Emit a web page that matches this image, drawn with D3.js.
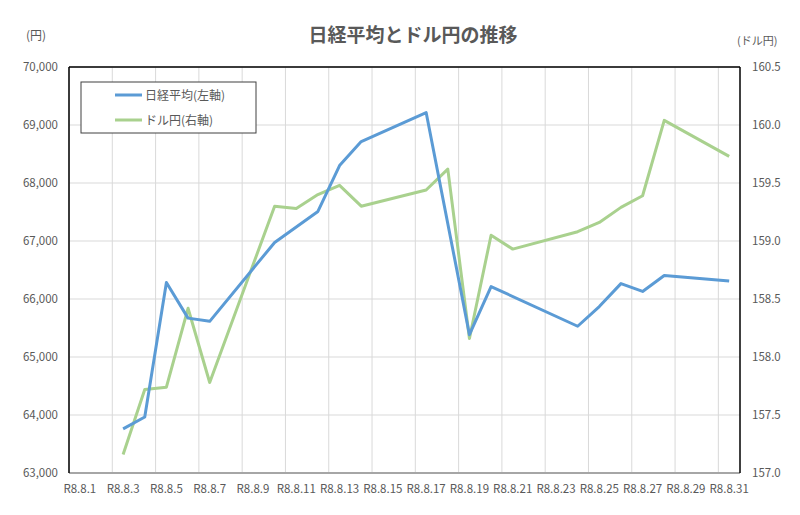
<!DOCTYPE html>
<html><head><meta charset="utf-8">
<script src="https://cdn.jsdelivr.net/npm/d3@7"></script>
<style>
body{margin:0;background:#fff;}
text{font-family:"Noto Sans CJK JP","Noto Sans",sans-serif;}
</style></head>
<body><svg id="c" width="800" height="515"></svg>
<script>
const nikkeiDays = [3,4,5,6,7,10,12,13,14,17,19,20,24,25,26,27,28,31];
const nikkeiValues = [63760,63965,66285,65670,65615,66975,67510,68300,68715,69215,65385,66215,65530,65870,66265,66130,66405,66310];
const usdjpyDays = [3,4,5,6,7,10,11,12,13,14,17,18,19,20,21,24,25,26,27,28,31];
const usdjpyValues = [157.16,157.72,157.74,158.42,157.78,159.30,159.28,159.40,159.48,159.30,159.44,159.62,158.16,159.05,158.93,159.08,159.16,159.29,159.39,160.04,159.73];
const xTickDays = [1,3,5,7,9,11,13,15,17,19,21,23,25,27,29,31];
const leftTicks = [63000,64000,65000,66000,67000,68000,69000,70000];
const rightTicks = [157.0,157.5,158.0,158.5,159.0,159.5,160.0,160.5];
const seriesNames = ["日経平均(左軸)","ドル円(右軸)"];
const colors = ["#5b9bd5","#a9d18e"];

const svg = d3.select("#c");
const L=69,R=740,T=67,B=473;
const day = d => new Date(2026,7,d);
const mid = d => new Date(2026,7,d,12);
const x = d3.scaleTime().domain([day(1),day(32)]).range([L,R]);
const yL = d3.scaleLinear().domain([63000,70000]).range([B,T]);
const yR = d3.scaleLinear().domain([157,160.5]).range([B,T]);
const grey="#595959";

// gridlines
const g = svg.append("g");
g.selectAll("line.h").data(leftTicks).join("line")
 .attr("x1",L).attr("x2",R).attr("y1",d=>yL(d)).attr("y2",d=>yL(d))
 .attr("stroke","#d9d9d9").attr("stroke-width",1);
g.selectAll("line.v").data(xTickDays).join("line")
 .attr("x1",d=>x(day(d))).attr("x2",d=>x(day(d))).attr("y1",T).attr("y2",B)
 .attr("stroke","#d9d9d9").attr("stroke-width",1);

// axes text
const fmt = d3.format(",");
svg.append("g").selectAll("text").data(leftTicks).join("text")
 .attr("x",58).attr("y",d=>yL(d)+4).attr("text-anchor","end")
 .attr("font-size",11.5).attr("fill",grey).text(d=>fmt(d));
svg.append("g").selectAll("text").data(rightTicks).join("text")
 .attr("x",752).attr("y",d=>yR(d)+4).attr("text-anchor","start")
 .attr("font-size",11.5).attr("fill",grey).text(d=>d.toFixed(1));
svg.append("g").selectAll("text").data(xTickDays).join("text")
 .attr("x",d=>x(mid(d))).attr("y",493).attr("text-anchor","middle")
 .attr("font-size",11.5).attr("fill",grey).text(d=>"R8.8."+d);

// lines
const lineL = d3.line().x((d,i)=>x(mid(nikkeiDays[i]))).y(d=>yL(d));
const lineR = d3.line().x((d,i)=>x(mid(usdjpyDays[i]))).y(d=>yR(d));
svg.append("path").datum(usdjpyValues).attr("d",lineR).attr("fill","none")
 .attr("stroke",colors[1]).attr("stroke-width",3).attr("stroke-linejoin","round");
svg.append("path").datum(nikkeiValues).attr("d",lineL).attr("fill","none")
 .attr("stroke",colors[0]).attr("stroke-width",3).attr("stroke-linejoin","round");

// borders
svg.append("line").attr("x1",L).attr("x2",R).attr("y1",B).attr("y2",B).attr("stroke","#a6a6a6").attr("stroke-width",2);
svg.append("line").attr("x1",L).attr("x2",R).attr("y1",T).attr("y2",T).attr("stroke","#000").attr("stroke-width",1.5);
svg.append("line").attr("x1",L).attr("x2",L).attr("y1",T).attr("y2",B).attr("stroke","#000").attr("stroke-width",1.5);
svg.append("line").attr("x1",R).attr("x2",R).attr("y1",T).attr("y2",B).attr("stroke","#000").attr("stroke-width",1.5);

// legend
const lg = svg.append("g");
lg.append("rect").attr("x",81).attr("y",82).attr("width",175).attr("height",51)
 .attr("fill","#fff").attr("stroke","#404040").attr("stroke-width",1);
seriesNames.forEach((n,i)=>{
  const yy = 95 + i*25;
  lg.append("line").attr("x1",115).attr("x2",142).attr("y1",yy).attr("y2",yy)
    .attr("stroke",colors[i]).attr("stroke-width",3);
  lg.append("text").attr("x",145).attr("y",yy+4.5).attr("font-size",12)
    .attr("fill",grey).text(n);
});

// titles
svg.append("text").attr("x",413).attr("y",42).attr("text-anchor","middle")
 .attr("font-size",19).attr("font-weight","bold").attr("fill",grey).text("日経平均とドル円の推移");
svg.append("text").attr("x",26).attr("y",40).attr("font-size",12).attr("fill",grey).text("(円)");
svg.append("text").attr("x",737).attr("y",45).attr("font-size",11).attr("fill",grey)
 .attr("font-family","'DejaVu Serif',serif").text("(ドル円)");
</script></body></html>
